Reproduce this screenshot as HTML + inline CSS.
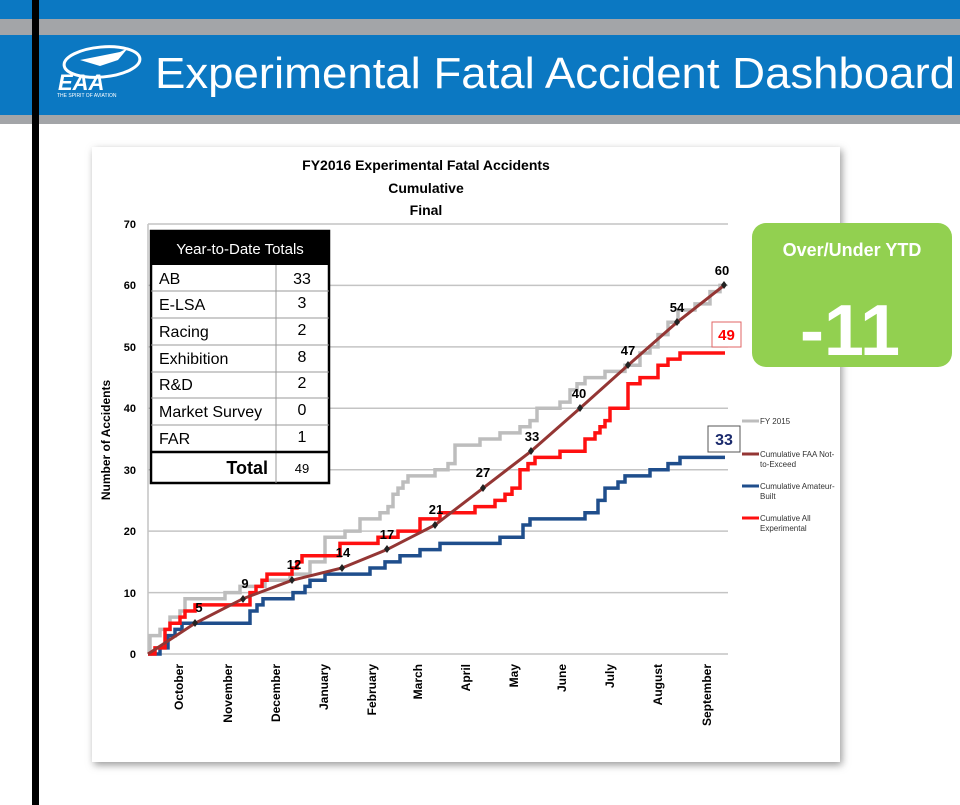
<!DOCTYPE html>
<html><head><meta charset="utf-8"><style>
html,body{margin:0;padding:0;background:#fff;}
svg{display:block;font-family:"Liberation Sans",sans-serif;}
</style></head><body>
<svg width="960" height="805" viewBox="0 0 960 805" xmlns="http://www.w3.org/2000/svg">
<defs><filter id="sh" x="-5%" y="-5%" width="110%" height="110%"><feGaussianBlur stdDeviation="4"/></filter></defs>
<rect x="0" y="0" width="960" height="19" fill="#0b78c2"/>
<rect x="0" y="19" width="960" height="16" fill="#a3a5a8"/>
<rect x="0" y="35" width="960" height="80" fill="#0b78c2"/>
<rect x="0" y="115" width="960" height="9" fill="#a3a5a8"/>
<rect x="32" y="0" width="7" height="805" fill="#000"/>
<!-- logo -->
<ellipse cx="102" cy="62" rx="38" ry="15" fill="none" stroke="#fff" stroke-width="3" transform="rotate(-5 102 62)"/>
<path d="M80 60 L120 52 L128 48 L118 60 L100 66 Z" fill="#fff"/>
<text x="58" y="90" font-size="22" font-weight="bold" font-style="italic" fill="#fff">EAA</text>
<text x="57" y="97" font-size="5" fill="#fff">THE SPIRIT OF AVIATION</text>
<text x="155" y="88" font-size="44" fill="#fff" textLength="800" lengthAdjust="spacingAndGlyphs">Experimental Fatal Accident Dashboard</text>
<!-- card -->
<rect x="94" y="150" width="748" height="615" fill="#999" filter="url(#sh)"/>
<rect x="92" y="147" width="748" height="615" fill="#fff"/>
<text x="426" y="170" font-size="14" font-weight="bold" text-anchor="middle">FY2016 Experimental Fatal Accidents</text>
<text x="426" y="193" font-size="14" font-weight="bold" text-anchor="middle">Cumulative</text>
<text x="426" y="215" font-size="14" font-weight="bold" text-anchor="middle">Final</text>
<!-- grid -->
<g stroke="#c4c4c4" stroke-width="1.5">
<line x1="148" y1="224" x2="728" y2="224"/><line x1="148" y1="285.4" x2="728" y2="285.4"/>
<line x1="148" y1="346.9" x2="728" y2="346.9"/><line x1="148" y1="408.3" x2="728" y2="408.3"/>
<line x1="148" y1="469.7" x2="728" y2="469.7"/><line x1="148" y1="531.1" x2="728" y2="531.1"/>
<line x1="148" y1="592.6" x2="728" y2="592.6"/><line x1="148" y1="654" x2="728" y2="654"/>
<line x1="148" y1="224" x2="148" y2="654"/>
</g>
<g font-size="11" font-weight="bold" text-anchor="end">
<text x="136" y="228">70</text><text x="136" y="289">60</text><text x="136" y="351">50</text><text x="136" y="412">40</text><text x="136" y="474">30</text><text x="136" y="535">20</text><text x="136" y="597">10</text><text x="136" y="658">0</text>
</g>
<text transform="translate(110 440) rotate(-90)" font-size="12" font-weight="bold" text-anchor="middle">Number of Accidents</text>
<g font-size="12" font-weight="bold" text-anchor="end">
<text transform="translate(183 664) rotate(-90)">October</text>
<text transform="translate(232 664) rotate(-90)">November</text>
<text transform="translate(280 664) rotate(-90)">December</text>
<text transform="translate(328 664) rotate(-90)">January</text>
<text transform="translate(376 664) rotate(-90)">February</text>
<text transform="translate(422 664) rotate(-90)">March</text>
<text transform="translate(470 664) rotate(-90)">April</text>
<text transform="translate(518 664) rotate(-90)">May</text>
<text transform="translate(566 664) rotate(-90)">June</text>
<text transform="translate(614 664) rotate(-90)">July</text>
<text transform="translate(662 664) rotate(-90)">August</text>
<text transform="translate(711 664) rotate(-90)">September</text>
</g>
<g transform="matrix(1 0 0 -6.143 0 654)" fill="none" stroke-linejoin="miter">
<path vector-effect="non-scaling-stroke" stroke="#bdbdbd" stroke-width="3.5" d="M148 0 H150 V3 H160 V4 H170 V6 H180 V7 H185 V9 H225 V10 H240 V11 H265 V12 H290 V13 H310 V15 H325 V19 H345 V20 H360 V22 H380 V23 H388 V24 H393 V26 H398 V27 H403 V28 H408 V29 H435 V30 H448 V31 H455 V34 H480 V35 H500 V36 H520 V37 H530 V38 H537 V40 H560 V41 H570 V43 H577 V44 H585 V45 H605 V46 H625 V47 H640 V49 H650 V50 H658 V52 H668 V54 H678 V56 H695 V57 H710 V59 H720 V60 H725"/>
<path vector-effect="non-scaling-stroke" stroke="#1f4e8c" stroke-width="3.5" d="M148 0 H160 V1 H168 V3 H175 V4 H182 V5 H250 V7 H257 V8 H263 V9 H293 V10 H305 V11 H310 V12 H325 V13 H370 V14 H385 V15 H400 V16 H420 V17 H440 V18 H500 V19 H523 V21 H530 V22 H585 V23 H598 V25 H605 V27 H618 V28 H625 V29 H650 V30 H668 V31 H680 V32 H725"/>
<path vector-effect="non-scaling-stroke" stroke="#ff1010" stroke-width="3.5" d="M148 0 H155 V1 H165 V4 H170 V5 H180 V6 H185 V7 H195 V8 H250 V10 H256 V11 H262 V12 H267 V13 H292 V14 H297 V15 H302 V16 H340 V18 H378 V19 H398 V20 H420 V22 H440 V23 H475 V24 H495 V25 H505 V26 H512 V27 H520 V30 H528 V31 H535 V32 H560 V33 H585 V35 H595 V36 H600 V37 H605 V38 H610 V40 H622 V40 H628 V44 H640 V45 H658 V47 H668 V48 H680 V49 H725"/>
<polyline vector-effect="non-scaling-stroke" stroke="#943634" stroke-width="3" points="148,0 195,5 243,9 292,12 342,14 387,17 435,21 483,27 531,33 580,40 628,47 677,54 724,60"/>
</g>
<g fill="#222">
<path d="M195 619 l3 4 l-3 4 l-3 -4z"/><path d="M243 595 l3 4 l-3 4 l-3 -4z"/><path d="M292 576 l3 4 l-3 4 l-3 -4z"/><path d="M342 564 l3 4 l-3 4 l-3 -4z"/><path d="M387 545 l3 4 l-3 4 l-3 -4z"/><path d="M435 521 l3 4 l-3 4 l-3 -4z"/><path d="M483 484 l3 4 l-3 4 l-3 -4z"/><path d="M531 447 l3 4 l-3 4 l-3 -4z"/><path d="M580 404 l3 4 l-3 4 l-3 -4z"/><path d="M628 361 l3 4 l-3 4 l-3 -4z"/><path d="M677 318 l3 4 l-3 4 l-3 -4z"/><path d="M724 281 l3 4 l-3 4 l-3 -4z"/>
</g>
<g font-size="13" font-weight="bold" text-anchor="middle">
<text x="199" y="612">5</text><text x="245" y="588">9</text><text x="294" y="569">12</text><text x="343" y="557">14</text><text x="387" y="539">17</text><text x="436" y="514">21</text><text x="483" y="477">27</text><text x="532" y="441">33</text><text x="579" y="398">40</text><text x="628" y="355">47</text><text x="677" y="312">54</text><text x="722" y="275">60</text>
</g>
<rect x="712" y="322" width="29" height="25" fill="#fff" stroke="#e06666"/>
<text x="726.5" y="340" font-size="15" font-weight="bold" fill="#ff0000" text-anchor="middle">49</text>
<rect x="708" y="426" width="32" height="26" fill="#fff" stroke="#555"/>
<text x="724" y="445" font-size="16" font-weight="bold" fill="#1a2a6c" text-anchor="middle">33</text>
<!-- legend -->
<g font-size="8" fill="#333">
<line x1="742" y1="421" x2="759" y2="421" stroke="#bdbdbd" stroke-width="3"/><text x="760" y="424">FY 2015</text>
<line x1="742" y1="454" x2="759" y2="454" stroke="#943634" stroke-width="3"/><text x="760" y="457">Cumulative FAA Not-</text><text x="760" y="467">to-Exceed</text>
<line x1="742" y1="486" x2="759" y2="486" stroke="#1f4e8c" stroke-width="3"/><text x="760" y="489">Cumulative Amateur-</text><text x="760" y="499">Built</text>
<line x1="742" y1="518" x2="759" y2="518" stroke="#ff1010" stroke-width="3"/><text x="760" y="521">Cumulative All</text><text x="760" y="531">Experimental</text>
</g>
<!-- table -->
<rect x="151" y="231" width="178" height="252" fill="#fff" stroke="#000" stroke-width="2.5"/>
<rect x="151" y="231" width="178" height="34" fill="#000"/>
<text x="240" y="254" font-size="15" fill="#fff" text-anchor="middle">Year-to-Date Totals</text>
<g stroke="#999" stroke-width="1">
<line x1="151" y1="291" x2="329" y2="291"/><line x1="151" y1="318" x2="329" y2="318"/><line x1="151" y1="345" x2="329" y2="345"/><line x1="151" y1="372" x2="329" y2="372"/><line x1="151" y1="398" x2="329" y2="398"/><line x1="151" y1="425" x2="329" y2="425"/>
<line x1="276" y1="265" x2="276" y2="483"/>
</g>
<line x1="151" y1="452" x2="329" y2="452" stroke="#000" stroke-width="2.5"/>
<g font-size="16">
<text x="159" y="284">AB</text><text x="159" y="310">E-LSA</text><text x="159" y="337">Racing</text><text x="159" y="364">Exhibition</text><text x="159" y="390">R&amp;D</text><text x="159" y="417">Market Survey</text><text x="159" y="444">FAR</text>
</g>
<g font-size="16" text-anchor="middle">
<text x="302" y="284">33</text><text x="302" y="308">3</text><text x="302" y="335">2</text><text x="302" y="362">8</text><text x="302" y="388">2</text><text x="302" y="415">0</text><text x="302" y="442">1</text>
</g>
<text x="268" y="474" font-size="18" font-weight="bold" text-anchor="end">Total</text>
<text x="302" y="473" font-size="13" text-anchor="middle">49</text>
<!-- green -->
<rect x="752" y="223" width="200" height="144" rx="14" fill="#92d050"/>
<text x="852" y="256" font-size="18" font-weight="bold" fill="#fff" text-anchor="middle">Over/Under YTD</text>
<text x="850" y="355" font-size="72" font-weight="bold" fill="#fff" text-anchor="middle">-11</text>
</svg>
</body></html>
